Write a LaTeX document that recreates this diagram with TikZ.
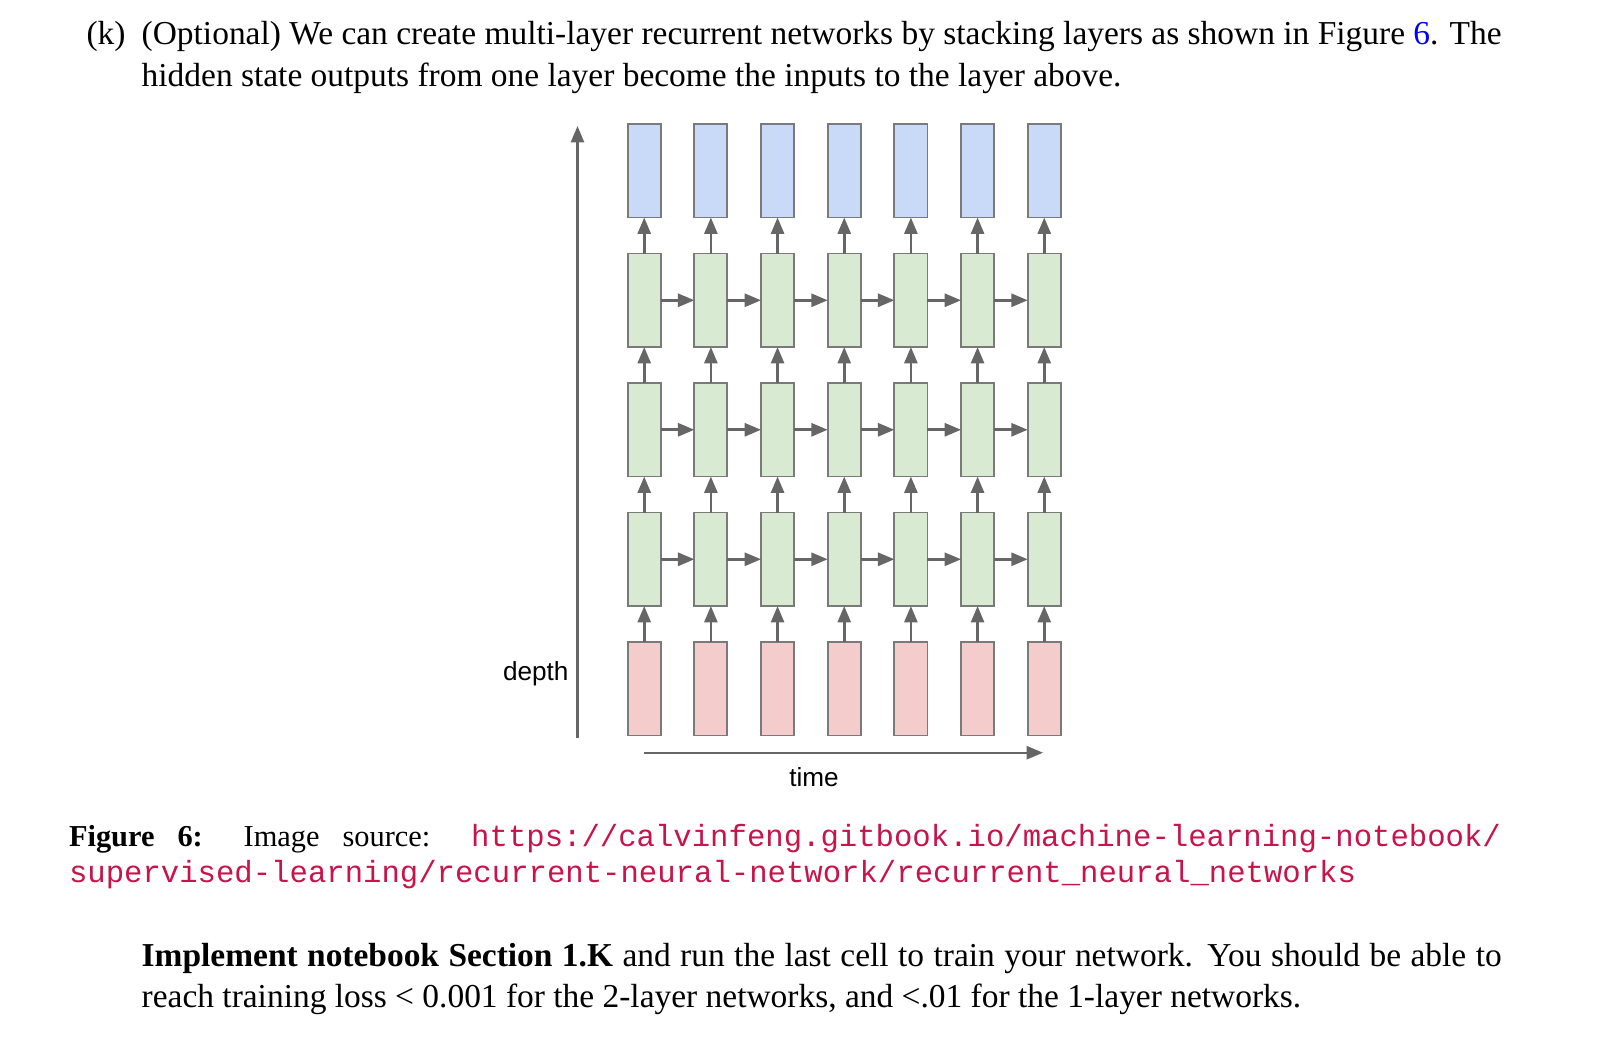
\documentclass[tikz,border=0pt]{standalone}
\usepackage{fontspec}
\setmainfont{Liberation Serif}
\setmonofont{Liberation Mono}
\newfontfamily\arialf{Liberation Sans}
\usetikzlibrary{arrows.meta}
\definecolor{boxblue}{HTML}{C9DAF8}
\definecolor{boxgreen}{HTML}{D9EAD3}
\definecolor{boxred}{HTML}{F4CCCC}
\definecolor{edgegray}{HTML}{7A7A7A}
\definecolor{arrgray}{HTML}{666666}
\definecolor{linkblue}{RGB}{0,0,255}
\definecolor{urlc}{RGB}{200,20,75}
\newdimen\pxu \pxu=0.328947pt
\newcommand{\urlfmt}[1]{\textcolor{urlc}{\fontsize{10.08}{12}\selectfont\texttt{#1}}}
\begin{document}
\begin{tikzpicture}[x=0.328947pt, y=-0.328947pt,
  cell/.style={draw=edgegray, line width=0.6pt, inner sep=0pt, outer sep=0pt,
    minimum width=10.86pt, minimum height=30.76pt, anchor=north west},
  arr/.style={draw=arrgray, line width=0.85pt, -{Triangle[length=5.4pt,width=4.3pt]}},
  axisarr/.style={draw=arrgray, line width=0.8pt, -{Triangle[length=5.4pt,width=4.3pt]}},
  txt/.style={anchor=base west, inner sep=0pt, outer sep=0pt, font=\fontsize{11}{13.6}\selectfont},
  captxt/.style={anchor=base west, inner sep=0pt, outer sep=0pt, font=\fontsize{10}{12}\selectfont},
  lab/.style={inner sep=0pt, outer sep=0pt, font=\arialf\fontsize{8.6}{10}\selectfont}]
\useasboundingbox (0,0) rectangle (1599,1041);

% text above
\node[txt] (k) at (86.5,44.3) {(k)};
\node[txt] (l1) at (141.7,44.3) {\hbox to 1360\pxu{(Optional) We can create multi-layer recurrent networks by stacking layers as shown in Figure \textcolor{linkblue}{6}. The}};
\node[txt] (l2) at (141.7,86) {hidden state outputs from one layer become the inputs to the layer above.};

% boxes
\foreach \r/\t/\c in {b/124/boxblue, g3/253.5/boxgreen, g2/383/boxgreen, g1/512.5/boxgreen, r/642/boxred}{
  \foreach \i in {0,...,6}{
    \node[cell, fill=\c] (\r-\i) at ({627.7+66.67*\i}, \t) {};
  }
}
% vertical arrows
\foreach \lo/\hi in {r/g1, g1/g2, g2/g3, g3/b}{
  \foreach \i in {0,...,6}{
    \draw[arr] (\lo-\i.north) -- (\hi-\i.south);
  }
}
% horizontal arrows
\foreach \r in {g1,g2,g3}{
  \foreach \i in {0,...,5}{
    \pgfmathtruncatemacro{\j}{\i+1}
    \draw[arr] (\r-\i.east) -- (\r-\j.west);
  }
}
% axes
\coordinate (d0) at (577.5,738);
\coordinate (d1) at (577.5,126);
\draw[axisarr] (d0) -- (d1);
\coordinate (t0) at (644,752.7);
\coordinate (t1) at (1043,752.7);
\draw[axisarr] (t0) -- (t1);
\node[lab, anchor=base east] (depth) at (568.5,680) {depth};
\node[lab, anchor=base] (time) at (814,786) {time};

% caption
\node[captxt] (c1) at (69,846) {\hbox to 1432\pxu{\textbf{Figure 6:} Image source: \urlfmt{https://calvinfeng.gitbook.io/machine-learning-notebook/}}};
\node[captxt] (c2) at (69,882.6) {\urlfmt{supervised-learning/recurrent-neural-network/recurrent\_neural\_networks}};

% text below
\node[txt] (p1) at (141.7,966) {\hbox to 1360\pxu{\textbf{Implement notebook Section 1.K} and run the last cell to train your network. You should be able to}};
\node[txt] (p2) at (141.7,1007.3) {reach training loss < 0.001 for the 2-layer networks, and <.01 for the 1-layer networks.};
\end{tikzpicture}
\end{document}
